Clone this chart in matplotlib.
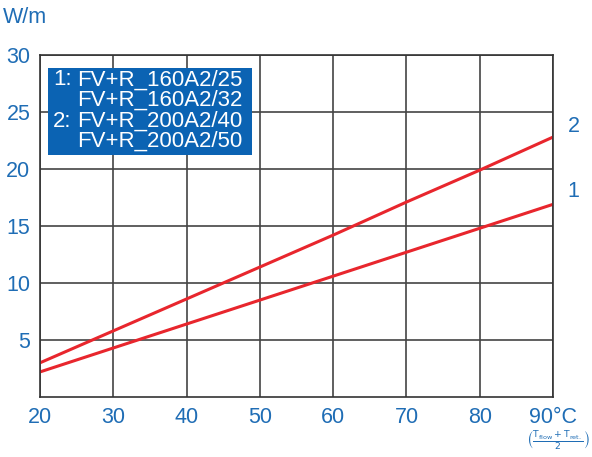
import numpy as np
import matplotlib.pyplot as plt
from matplotlib.patches import Rectangle

temps = [20, 30, 40, 50, 60, 70, 80, 90]
curve1 = [2.2, 4.3, 6.4, 8.5, 10.6, 12.7, 14.8, 16.9]
curve2 = [3.0, 5.8, 8.6, 11.4, 14.2, 17.1, 19.9, 22.8]
xticklabels = ['20', '30', '40', '50', '60', '70', '80', '90°C']
yticks = [5, 10, 15, 20, 25, 30]
legend_prefix = ['1:', '', '2:', '']
legend_names = ['FV+R_160A2/25', 'FV+R_160A2/32', 'FV+R_200A2/40', 'FV+R_200A2/50']

blue = '#1f6db5'
red = '#e8262d'
plt.rcParams['font.family'] = ['Liberation Sans', 'DejaVu Sans']

fig = plt.figure(figsize=(5.92, 4.57), dpi=100)
ax = fig.add_axes([0.0676, 0.1313, 0.8666, 0.7484])

ax.plot(temps, curve1, color=red, lw=2.2, solid_capstyle='butt')
ax.plot(temps, curve2, color=red, lw=2.2, solid_capstyle='butt')

ax.set_xlim(20, 90)
ax.set_ylim(0, 30)
ax.set_xticks(temps)
ax.set_xticklabels(xticklabels)
ax.set_yticks(yticks)
ax.grid(True, color='#444444', lw=1.2)
ax.set_axisbelow(True)
for s in ax.spines.values():
    s.set_color('#333333')
    s.set_linewidth(1.2)
ax.tick_params(length=0, labelsize=15.5, labelcolor=blue)
ax.tick_params(axis='x', pad=7)
ax.tick_params(axis='y', pad=7)

# end labels
ax.text(92.8, curve2[-1] + 0.9, '2', color=blue, fontsize=15.5, ha='center', va='center', clip_on=False)
ax.text(92.8, curve1[-1] + 1.1, '1', color=blue, fontsize=15.5, ha='center', va='center', clip_on=False)

# unit label
fig.text(0.005, 0.985, 'W/m', color=blue, fontsize=15.5, ha='left', va='top')

# legend box
ax.add_patch(Rectangle((0.0156, 0.708), 0.397, 0.254, transform=ax.transAxes,
                       facecolor='#0b63b3', edgecolor='none', zorder=5))
ys = [0.927, 0.868, 0.806, 0.747]
for p, n, y in zip(legend_prefix, legend_names, ys):
    if p:
        ax.text(0.025, y, p, transform=ax.transAxes, color='white', fontsize=16,
                ha='left', va='center', zorder=6)
    ax.text(0.072, y, n, transform=ax.transAxes, color='white', fontsize=16,
            ha='left', va='center', zorder=6)

# formula under 90°C
fig.text(0.943, 0.035, r'$\left(\frac{\mathrm{T_{flow}+T_{ret.}}}{\mathrm{2}}\right)$', color=blue,
         fontsize=9.5, ha='center', va='center')

fig.savefig('out.png', dpi=100)
